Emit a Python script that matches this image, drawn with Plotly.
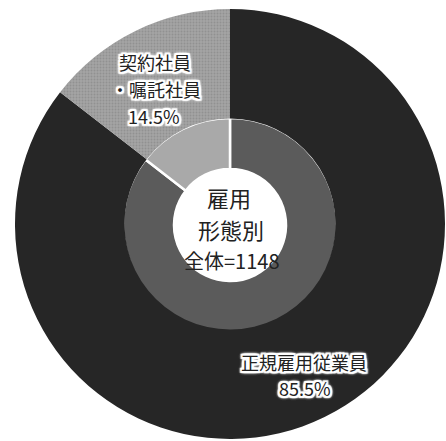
import plotly.graph_objects as go

# ---- data ----
categories = ["正規雇用従業員", "契約社員・嘱託社員"]
values = [85.5, 14.5]
center_title = ["雇用", "形態別"]
total_n = 1148

W, H = 446, 441
FONT = "Noto Sans CJK JP"

def px_x(x):
    return x / W

def px_y(y):
    return 1 - y / H

# ring geometry (pixels)
ocx, ocy, orad = 230, 224, 215
icx, icy, irad = 230, 225, 107
hole_r = 56

inner = go.Pie(
    labels=categories,
    values=values,
    sort=False,
    direction="clockwise",
    rotation=0,
    hole=hole_r / irad,
    textinfo="none",
    hoverinfo="label+percent",
    marker=dict(colors=["#5b5b5b", "#a9a9a9"],
                line=dict(color="white", width=2.5)),
    domain=dict(x=[px_x(icx - irad), px_x(icx + irad)],
                y=[px_y(icy + irad), px_y(icy - irad)]),
    showlegend=False,
)

# outer ring drawn after inner so it hides the white stroke on the inner ring's rim
outer = go.Pie(
    labels=categories,
    values=values,
    sort=False,
    direction="clockwise",
    rotation=0,
    hole=(irad - 1.5) / orad,
    textinfo="none",
    hoverinfo="label+percent",
    marker=dict(
        colors=["#262626", "#a4a4a4"],
        line=dict(width=0),
        pattern=dict(shape=["", "."], size=3, solidity=0.35,
                     fgcolor="#7e7e7e", fillmode="overlay"),
    ),
    domain=dict(x=[px_x(ocx - orad), px_x(ocx + orad)],
                y=[px_y(ocy + orad), px_y(ocy - orad)]),
    showlegend=False,
)

fig = go.Figure([inner, outer])

outline = []
for dx in (-2, -1, 0, 1, 2):
    for dy in (-2, -1, 0, 1, 2):
        if dx or dy:
            outline.append(f"{dx}px {dy}px 1px white")
shadow = ", ".join(outline + ["0px 0px 4px white"] * 4)

def ann(text, x, y, size, shadow_on=True):
    return dict(text=text, x=px_x(x), y=px_y(y), xref="paper", yref="paper",
                showarrow=False, xanchor="center", yanchor="middle",
                align="center", borderpad=0,
                font=dict(family=FONT, size=size, color="#222222",
                          shadow=shadow if shadow_on else "none"))

contract_lines = ["契約社員", "・嘱託社員"]
annotations = [
    ann(contract_lines[0], 155, 62, 18),
    ann(contract_lines[1], 156, 89, 18),
    ann(f"{values[1]}%", 154, 116, 18),
    ann(categories[0], 304, 362, 18),
    ann(f"{values[0]}%", 305, 388, 18),
    ann(center_title[0], 229, 197, 22, False),
    ann(center_title[1], 231, 229, 22, False),
    ann(f"全体={total_n}", 232, 260, 20, False),
]

fig.update_layout(
    width=W, height=H,
    margin=dict(l=0, r=0, t=0, b=0),
    paper_bgcolor="white",
    plot_bgcolor="white",
    annotations=annotations,
)

fig.write_html("out.html",
               config={"displayModeBar": False},
               post_script="document.body.style.margin='0';document.body.style.overflow='hidden';")
